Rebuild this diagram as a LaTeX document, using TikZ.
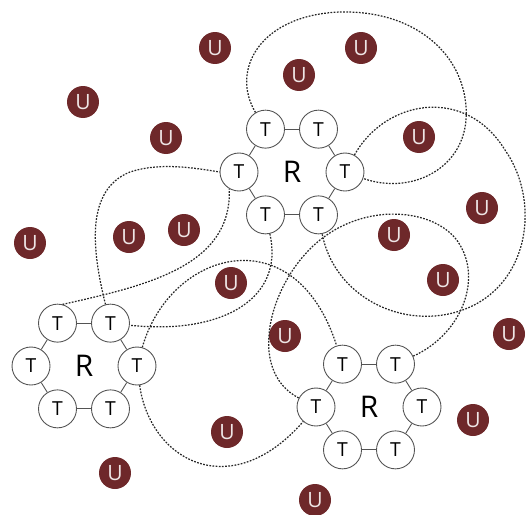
\documentclass[tikz,border=0pt]{standalone}
\usepackage{fontspec}
\setmainfont{Open Sans}
\usepackage{xcolor}
\usepackage{tikz}
\usetikzlibrary{positioning, calc}
\definecolor{ured}{RGB}{110,40,42}
\tikzset{
    tnode/.style = {circle, draw=gray!65!black, line width=0.5pt, fill=white,
        minimum size=0.76cm, inner sep=0pt, font=\fontsize{11}{12}\selectfont},
    rnode/.style = {inner sep=0pt, font=\fontsize{17}{18}\selectfont},
    unode/.style = {circle, fill=ured, minimum size=0.64cm, inner sep=0pt,
        text=white!88!ured, font=\fontsize{12}{13}\selectfont},
    ring/.style = {draw=gray!65!black, line width=0.5pt},
    tie/.style = {draw=black!85, line width=0.7pt, dash pattern=on 1pt off 0.8pt},
}

\begin{document}
\begin{tikzpicture}[x=0.02cm, y=-0.02cm]
        \useasboundingbox (0,0) rectangle (527,514);
        % the three R rings
        \foreach \n/\p in {rA/{292,172}, rB/{84,366}, rC/{369,407}} {
            \node [rnode] (\n) at (\p) {R};
            \foreach \a/\i in {120/1, 60/2, 0/3, 300/4, 240/5, 180/6}
                \node [tnode] (\n-\i) at ($(\n)+(\a:1.06cm and 0.99cm)$) {T};
            \foreach \i/\j in {1/2, 2/3, 3/4, 4/5, 5/6, 6/1}
                \draw [ring] (\n-\i) -- (\n-\j);
        }
        % free U nodes
        \foreach \p [count=\k] in {{215,48}, {361,48}, {299,75}, {83,102}, {166,138},
                {419,137}, {482,208}, {30,243}, {129,237}, {184,230}, {394,235},
                {231,283}, {443,280}, {285,336}, {509,334}, {227,432}, {473,420},
                {115,473}, {315,500}}
            \node [unode] (u\k) at (\p) {U};
        % dotted ties
        \draw [tie] (rA-1) .. controls (230,70) and (260,15) .. (340,12)
            .. controls (420,10) and (470,60) .. (466,120)
            .. controls (462,170) and (410,195) .. (rA-3);
        \draw [tie] (rA-3) .. controls (385,100) and (465,85) .. (505,150)
            .. controls (540,200) and (530,280) .. (470,307)
            .. controls (410,334) and (335,300) .. (rA-4);
        \draw [tie] (rC-2) .. controls (460,335) and (482,282) .. (460,245)
            .. controls (440,210) and (370,200) .. (320,240)
            .. controls (270,280) and (245,370) .. (rC-6);
        \draw [tie] (rA-5) .. controls (285,300) and (220,335) .. (rB-2);
        \draw [tie] (rB-1.75) .. controls (150,285) and (232,265) .. (rA-6.240);
        \draw [tie] (rB-2.105) .. controls (92,250) and (85,190) .. (130,172)
            .. controls (160,162) and (195,168) .. (rA-6.west);
        \draw [tie] (rB-3) .. controls (170,250) and (295,215) .. (rC-1);
        \draw [tie] (rB-3) .. controls (150,460) and (230,505) .. (rC-6);
\end{tikzpicture}
\end{document}
